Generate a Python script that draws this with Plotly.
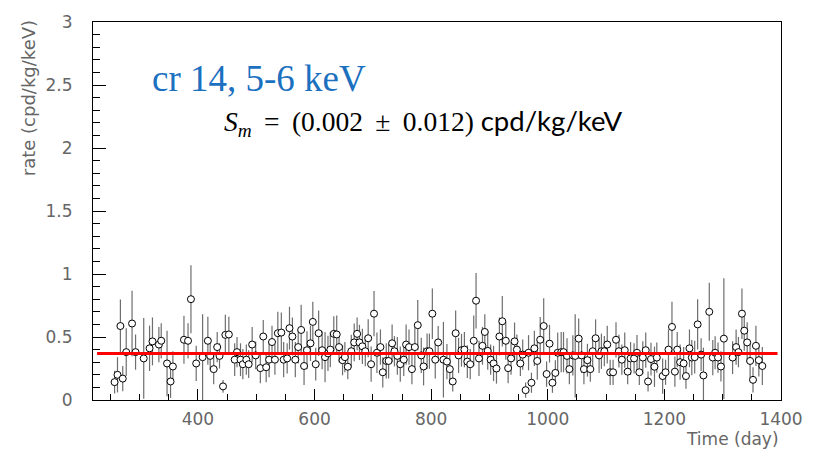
import plotly.graph_objects as go

# Time series of the 5-6 keV rate with its fitted constant level
days = [257, 262, 267, 271, 277, 287, 293, 307, 317, 322, 333, 337, 347, 353, 357, 376, 383, 388, 397, 408,
        417, 421, 427, 433, 437, 443, 447, 453,
        463, 467, 473, 477, 483, 487, 493, 499, 507, 512, 517, 522, 527, 532, 537, 543, 547, 553, 557, 562,
        567, 572, 577, 582, 587, 593, 597, 602, 607, 613, 618, 623, 627, 633, 638, 642, 648, 652, 657, 663,
        668, 673, 677, 682, 687, 692, 697,
        702, 707, 713, 717, 723, 727, 733, 737, 742, 747, 753, 757, 762, 767, 772, 777, 783, 787, 793, 797,
        802, 807, 812, 821, 827, 832, 837, 842, 847, 852, 857, 862, 867, 873, 877, 882, 888, 892, 897, 902,
        907, 912, 917, 922, 928, 932, 937,
        943, 947, 953, 957, 962, 967, 972, 977, 982, 987, 993, 998, 1003, 1008, 1013, 1017, 1023, 1027, 1033,
        1037, 1043, 1047, 1053, 1058, 1062, 1068, 1073, 1077, 1082, 1088, 1092, 1097, 1102, 1107, 1112, 1117,
        1122, 1127, 1132, 1137, 1142, 1148, 1153, 1157, 1163, 1168, 1172, 1177,
        1183, 1187, 1197, 1202, 1207, 1213, 1218, 1222, 1227, 1233, 1237, 1243, 1247, 1252, 1257, 1263, 1267,
        1277, 1283, 1287, 1292, 1297, 1302, 1317, 1323, 1327, 1333, 1337, 1342, 1347, 1352, 1357, 1362, 1368]

rate = [0.142, 0.20, 0.587, 0.17, 0.38, 0.607, 0.38, 0.33, 0.41, 0.465, 0.44, 0.47, 0.29, 0.147, 0.266, 0.478,
        0.47, 0.80, 0.29, 0.34, 0.47, 0.35, 0.245, 0.42, 0.35, 0.108, 0.517, 0.52,
        0.32, 0.38, 0.32, 0.284, 0.32, 0.284, 0.44, 0.354, 0.253, 0.504, 0.26, 0.32, 0.46, 0.32, 0.53, 0.535,
        0.32, 0.33, 0.57, 0.504, 0.32, 0.42, 0.556, 0.27, 0.395, 0.45, 0.62, 0.284, 0.53, 0.395, 0.34, 0.37,
        0.40, 0.525, 0.52, 0.42, 0.316, 0.34, 0.264, 0.387, 0.457, 0.525, 0.457, 0.426, 0.387, 0.49, 0.284,
        0.685, 0.375, 0.42, 0.22, 0.31, 0.31, 0.45, 0.387, 0.35, 0.284, 0.32, 0.44, 0.42, 0.245, 0.42, 0.594,
        0.354, 0.266, 0.387, 0.387, 0.685, 0.32, 0.457, 0.32, 0.305, 0.245, 0.147, 0.53, 0.354, 0.395, 0.40,
        0.305, 0.284, 0.47, 0.788, 0.33, 0.43, 0.54, 0.39, 0.32, 0.29, 0.25, 0.504, 0.625, 0.47, 0.253, 0.33,
        0.465, 0.40, 0.29, 0.36, 0.078, 0.375, 0.137, 0.41, 0.31, 0.478, 0.587, 0.206, 0.447, 0.137, 0.215,
        0.375, 0.38, 0.38, 0.35, 0.245, 0.354, 0.35, 0.487, 0.354, 0.245, 0.316, 0.245, 0.387, 0.49, 0.354,
        0.387, 0.387, 0.44, 0.22, 0.22, 0.478, 0.387, 0.32, 0.395, 0.225, 0.33, 0.33, 0.375, 0.22, 0.337,
        0.395, 0.147, 0.325,
        0.264, 0.337, 0.19, 0.22, 0.40, 0.58, 0.225, 0.40, 0.30, 0.29, 0.19, 0.41, 0.337, 0.34, 0.60, 0.36,
        0.195, 0.70, 0.337, 0.375, 0.337, 0.266, 0.487, 0.337, 0.42, 0.38, 0.685, 0.55, 0.457, 0.31, 0.16,
        0.43, 0.316, 0.27]

rate_err = [0.09, 0.14, 0.21, 0.10, 0.19, 0.26, 0.14, 0.32, 0.18, 0.19, 0.14, 0.14, 0.26, 0.13, 0.12, 0.19,
            0.14, 0.27, 0.14, 0.34, 0.19, 0.11, 0.12, 0.12, 0.10, 0.05, 0.16, 0.14,
            0.13, 0.12, 0.13, 0.12, 0.12, 0.11, 0.14, 0.11, 0.12, 0.13, 0.12, 0.14, 0.13, 0.12, 0.17, 0.16,
            0.14, 0.12, 0.17, 0.15, 0.14, 0.13, 0.20, 0.15, 0.15, 0.14, 0.16, 0.13, 0.18, 0.15, 0.20, 0.14,
            0.14, 0.14, 0.15, 0.12, 0.12, 0.12, 0.10, 0.13, 0.15, 0.13, 0.14, 0.14, 0.12, 0.15, 0.14,
            0.18, 0.16, 0.14, 0.12, 0.14, 0.14, 0.15, 0.12, 0.15, 0.14, 0.13, 0.16, 0.14, 0.12, 0.16, 0.20,
            0.14, 0.15, 0.14, 0.14, 0.20, 0.15, 0.13, 0.30, 0.14, 0.12, 0.08, 0.18, 0.14, 0.13, 0.14,
            0.13, 0.12, 0.20, 0.22, 0.14, 0.15, 0.14, 0.15, 0.12, 0.14, 0.12, 0.15, 0.20, 0.15, 0.12, 0.13,
            0.15, 0.12, 0.10, 0.12, 0.06, 0.14, 0.08, 0.14, 0.15, 0.18, 0.22, 0.10, 0.15, 0.08, 0.10,
            0.16, 0.16, 0.16, 0.14, 0.12, 0.16, 0.33, 0.16, 0.14, 0.12, 0.13, 0.10, 0.12, 0.15, 0.14,
            0.14, 0.12, 0.15, 0.10, 0.10, 0.14, 0.13, 0.12, 0.14, 0.10, 0.13, 0.12, 0.14, 0.10, 0.13,
            0.14, 0.08, 0.13,
            0.16, 0.12, 0.14, 0.10, 0.16, 0.20, 0.12, 0.14, 0.14, 0.13, 0.10, 0.15, 0.14, 0.13, 0.20, 0.13,
            0.22, 0.23, 0.14, 0.13, 0.12, 0.12, 0.48, 0.13, 0.14, 0.12, 0.20, 0.16, 0.16, 0.14, 0.10,
            0.16, 0.13, 0.15]

fit_days = [227, 1394]
fit_rate = [0.37, 0.37]

x_range = [220, 1400]
y_range = [0, 3]

W, H = 816, 453
L, R, T, B = 93, 35, 13, 53
plot_w = W - L - R
plot_h = H - T - B


def px_x(px):
    return (px - L) / plot_w


def px_y(py):
    return (H - B - py) / plot_h


fig = go.Figure()

fig.add_trace(go.Scatter(
    x=days, y=rate, mode="markers",
    error_y=dict(type="data", array=rate_err, visible=True, width=0,
                 thickness=1.2, color="#6e6e6e"),
    marker=dict(symbol="circle", size=7, color="white",
                line=dict(color="black", width=1)),
    showlegend=False, hoverinfo="x+y",
))

fig.add_trace(go.Scatter(
    x=fit_days, y=fit_rate, mode="lines",
    line=dict(color="#ff0000", width=3),
    showlegend=False, hoverinfo="skip",
))

tick_font = dict(family="DejaVu Sans", size=17, color="#666666")

fit_label = ("<i>S<sub>m</sub></i>\u2009 = \u2009(0.002 \u2009±\u2009 0.012) "
             "<span style='font-family:Lato'>cpd/kg/keV</span>")

fig.update_layout(
    width=W, height=H,
    margin=dict(l=L, r=R, t=T, b=B, pad=0),
    paper_bgcolor="white", plot_bgcolor="white",
    xaxis=dict(
        range=x_range, tick0=0, dtick=200, ticks="inside", ticklen=11,
        tickwidth=1, tickcolor="black", showline=True, linecolor="black",
        linewidth=1, mirror=True, showgrid=False, zeroline=False,
        tickfont=tick_font, ticklabelstandoff=4,
        minor=dict(dtick=50, ticks="inside", ticklen=6, tickcolor="black",
                   showgrid=False),
    ),
    yaxis=dict(
        range=y_range, tick0=0, dtick=0.5, ticks="inside", ticklen=13,
        tickwidth=1, tickcolor="black", showline=True, linecolor="black",
        linewidth=1, mirror=True, showgrid=False, zeroline=False,
        tickfont=tick_font, ticklabelstandoff=16,
        minor=dict(dtick=0.1, ticks="inside", ticklen=7, tickcolor="black",
                   showgrid=False),
    ),
    annotations=[
        dict(text="rate (cpd/kg/keV)", textangle=-90, xref="paper", yref="paper",
             x=px_x(28), y=px_y(91), xanchor="center", yanchor="middle",
             showarrow=False, font=dict(family="DejaVu Sans", size=18, color="#666666")),
        dict(text="Time (day)", xref="paper", yref="paper",
             x=1.0, y=px_y(440), xanchor="right", yanchor="middle",
             showarrow=False, font=dict(family="DejaVu Sans", size=17, color="#666666")),
        dict(text="cr 14, 5-6 keV", xref="paper", yref="paper",
             x=px_x(150), y=px_y(71), xanchor="left", yanchor="middle",
             showarrow=False, font=dict(family="Liberation Serif", size=37, color="#1b70c0")),
        dict(text=fit_label,
             xref="paper", yref="paper",
             x=px_x(222), y=px_y(116), xanchor="left", yanchor="middle",
             showarrow=False, font=dict(family="Liberation Serif", size=27.5, color="black")),
    ],
)

fig.write_html("out.html")
